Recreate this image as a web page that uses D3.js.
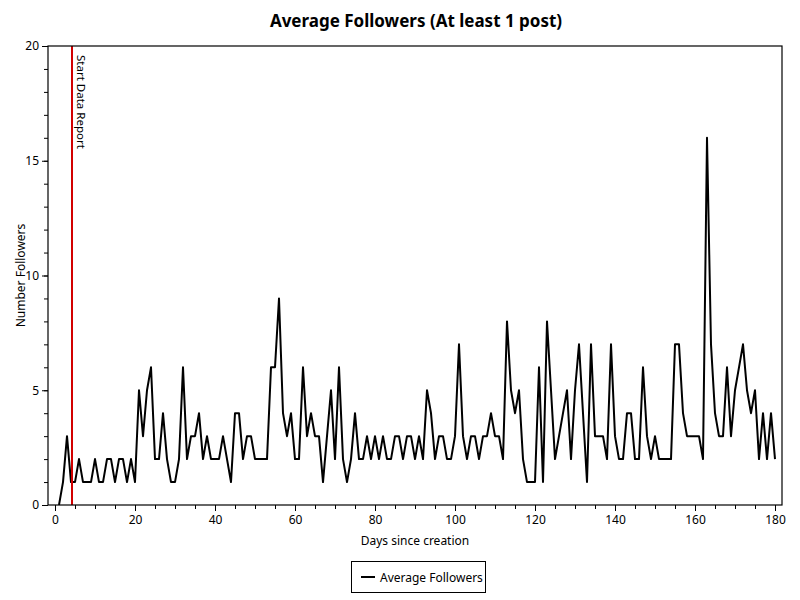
<!DOCTYPE html>
<html><head><meta charset="utf-8">
<script src="https://cdn.jsdelivr.net/npm/d3@7"></script>
<style>body{margin:0;background:#fff;} text{font-family:"Noto Sans",sans-serif;}</style>
</head><body><svg id="c" width="800" height="600"></svg>
<script>
const days = d3.range(1, 181);
const followers = [0,1,3,1,1,2,1,1,1,2,1,1,2,2,1,2,2,1,2,1,
5,3,5,6,2,2,4,2,1,1,2,6,2,3,3,4,2,3,2,2,
2,3,2,1,4,4,2,3,3,2,2,2,2,6,6,9,4,3,4,2,
2,6,3,4,3,3,1,3,5,2,6,2,1,2,4,2,2,3,2,3,
2,3,2,2,3,3,2,3,3,2,3,2,5,4,2,3,3,2,2,3,
7,3,2,3,3,2,3,3,4,3,3,2,8,5,4,5,2,1,1,1,
6,1,8,5,2,3,4,5,2,5,7,4,1,7,3,3,3,2,7,3,
2,2,4,4,2,2,6,3,2,3,2,2,2,2,7,7,4,3,3,3,
3,2,16,7,4,3,3,6,3,5,6,7,5,4,5,2,4,2,4,2];
const xTicks = [0,20,40,60,80,100,120,140,160,180];
const yTicks = [0,5,10,15,20];
const startDay = [4.25];
const titleText = "Average Followers (At least 1 post)";
const xLabel = "Days since creation";
const yLabel = "Number Followers";
const seriesName = "Average Followers";
const markerLabel = "Start Data Report";

const svg = d3.select("#c");
const L = 48, R = 782, T = 46, B = 505;
const x = d3.scaleLinear().domain([0,180]).range([55,775]);
const y = d3.scaleLinear().domain([0,20]).range([B,T]);

svg.append("text").attr("x",416).attr("y",27).attr("text-anchor","middle")
  .attr("font-size",17).attr("font-weight","bold").text(titleText);

// axes
const xAx = svg.append("g").attr("transform",`translate(0,${B})`)
  .call(d3.axisBottom(x).tickValues(d3.range(0,181,5)).tickSize(4).tickFormat(""));
xAx.select(".domain").remove();
const xAxM = svg.append("g").attr("transform",`translate(0,${B})`)
  .call(d3.axisBottom(x).tickValues(xTicks).tickSize(6).tickPadding(4));
xAxM.select(".domain").remove();
xAxM.selectAll("text").attr("font-size",12).attr("font-family","Noto Sans");

const yAx = svg.append("g").attr("transform",`translate(${L},0)`)
  .call(d3.axisLeft(y).tickValues(d3.range(0,21,1)).tickSize(4).tickFormat(""));
yAx.select(".domain").remove();
const yAxM = svg.append("g").attr("transform",`translate(${L},0)`)
  .call(d3.axisLeft(y).tickValues(yTicks).tickSize(6).tickPadding(3));
yAxM.select(".domain").remove();
yAxM.selectAll("text").attr("font-size",12).attr("font-family","Noto Sans");

svg.append("text").attr("x",415).attr("y",545).attr("text-anchor","middle")
  .attr("font-size",12).text(xLabel);
svg.append("text").attr("transform",`translate(25,${(T+B)/2}) rotate(-90)`)
  .attr("text-anchor","middle").attr("font-size",12).text(yLabel);

// clip
svg.append("clipPath").attr("id","pc").append("rect")
  .attr("x",L).attr("y",T).attr("width",R-L).attr("height",B-T);

const g = svg.append("g").attr("clip-path","url(#pc)");
g.append("path").datum(days.map((d,i)=>[d,followers[i]]))
  .attr("fill","none").attr("stroke","#000").attr("stroke-width",2)
  .attr("stroke-linejoin","round")
  .attr("d", d3.line().x(d=>x(d[0])).y(d=>y(d[1])));

g.selectAll("line.start").data(startDay).enter().append("line")
  .attr("x1",d=>x(d)).attr("x2",d=>x(d)).attr("y1",T).attr("y2",B)
  .attr("stroke","#d20000").attr("stroke-width",2);
svg.selectAll("text.start").data(startDay).enter().append("text")
  .attr("transform",d=>`translate(${x(d)+5},${T+9}) rotate(90)`)
  .attr("font-size",11.5).text(markerLabel);

svg.append("rect").attr("x",L).attr("y",T).attr("width",R-L).attr("height",B-T)
  .attr("fill","none").attr("stroke","#000").attr("stroke-width",1.2);

// legend
svg.append("rect").attr("x",351.5).attr("y",561.5).attr("width",134).attr("height",31)
  .attr("fill","#fff").attr("stroke","#000").attr("stroke-width",1);
svg.append("line").attr("x1",361).attr("x2",375).attr("y1",577).attr("y2",577)
  .attr("stroke","#000").attr("stroke-width",2);
svg.append("text").attr("x",380).attr("y",581.5).attr("font-size",12).text(seriesName);
</script></body></html>
